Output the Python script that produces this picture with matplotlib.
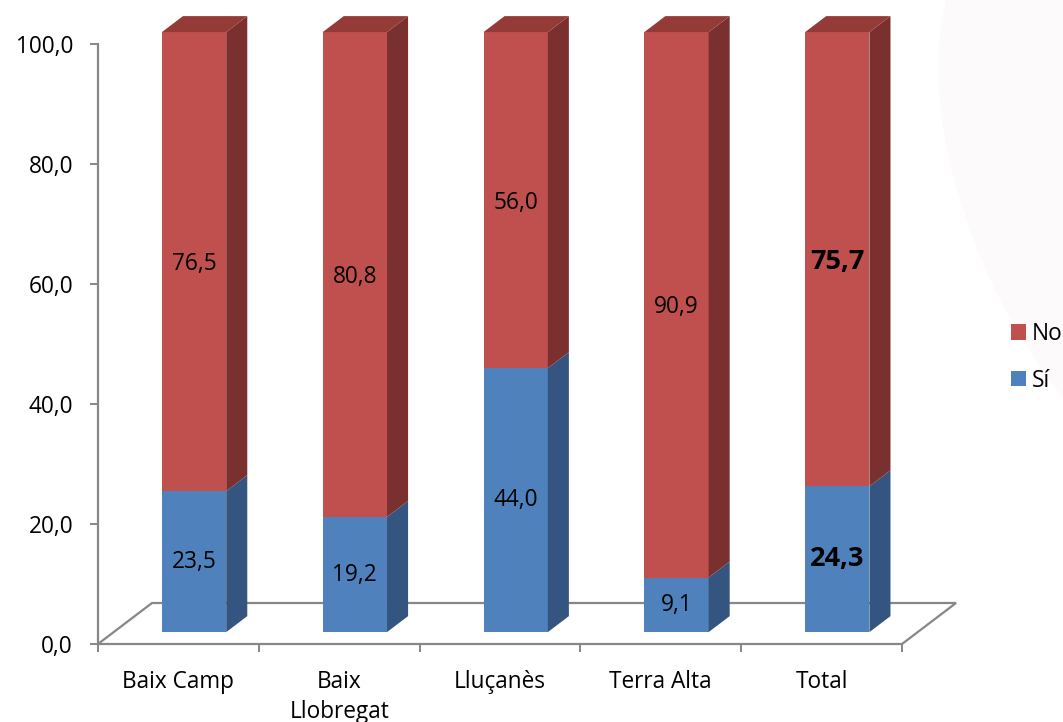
import matplotlib
matplotlib.use('Agg')
import matplotlib.pyplot as plt
from matplotlib.patches import Polygon, Ellipse, Patch
import numpy as np

# ---------------- data ----------------
categories = ['Baix Camp', 'Baix\nLlobregat', 'Lluçanès', 'Terra Alta', 'Total']
si_values = [23.5, 19.2, 44.0, 9.1, 24.3]
no_values = [76.5, 80.8, 56.0, 90.9, 75.7]
series_names = ['No', 'Sí']
y_ticks = [0, 20, 40, 60, 80, 100]
bold_category = 'Total'

# ---------------- style ----------------
plt.rcParams['font.family'] = ['Open Sans', 'DejaVu Sans']
RED_FRONT, RED_SIDE, RED_TOP = '#C0504D', '#7A302E', '#943A37'
BLUE_FRONT, BLUE_SIDE, BLUE_TOP = '#4F81BD', '#34557F', '#3E6496'
AXIS_GRAY = '#878787'
FS = 16.3
FS_BOLD = 19.5

W, H = 1063, 722
fig = plt.figure(figsize=(W / 100, H / 100), dpi=100)

# faint decorative shape on the right
fig.patches.append(Ellipse((1140, H - 210), 330, 640, angle=25,
                           transform=None, facecolor='#FDFAFB',
                           edgecolor='none', zorder=0))

ax = fig.add_axes([98 / W, (H - 644) / H, (902 - 98) / W, 600 / H])
ax.set_facecolor('none')
n = len(categories)
ax.set_xlim(-0.5, n - 0.5)
ax.set_ylim(0, 100)

# depth vector of the floor (pixels -> data units)
px_per_x = (902 - 98) / n
px_per_y = 600 / 100
DX = 54 / px_per_x
DY = 41 / px_per_y
f_front, f_back = 0.29, 0.68
bar_w = 0.4

x = np.arange(n)
xs = x + f_front * DX
oy = f_front * DY
sdx = (f_back - f_front) * DX
sdy = (f_back - f_front) * DY

# floor outline
x0, x1 = -0.5, n - 0.5
ax.plot([x0, x0 + DX, x1 + DX, x1], [0, DY, DY, 0], color=AXIS_GRAY,
        lw=1.6, clip_on=False, zorder=1, solid_joinstyle='miter')

si = np.array(si_values)
no = np.array(no_values)

ax.bar(xs, si, width=bar_w, bottom=oy, color=BLUE_FRONT, clip_on=False,
       zorder=3, linewidth=0)
ax.bar(xs, no, width=bar_w, bottom=oy + si, color=RED_FRONT, clip_on=False,
       zorder=3, linewidth=0)

for i in range(n):
    xr = xs[i] + bar_w / 2
    xl = xs[i] - bar_w / 2
    segs = [(oy, oy + si[i], BLUE_SIDE), (oy + si[i], oy + si[i] + no[i], RED_SIDE)]
    for y0, y1, c in segs:
        ax.add_patch(Polygon([(xr, y0), (xr + sdx, y0 + sdy), (xr + sdx, y1 + sdy), (xr, y1)],
                             closed=True, facecolor=c, edgecolor='none',
                             clip_on=False, zorder=3))
    yt = oy + si[i] + no[i]
    ax.add_patch(Polygon([(xl, yt), (xr, yt), (xr + sdx, yt + sdy), (xl + sdx, yt + sdy)],
                         closed=True, facecolor=RED_TOP, edgecolor='none',
                         clip_on=False, zorder=3))


def fmt(v):
    return f'{v:.1f}'.replace('.', ',')


for i in range(n):
    bold = categories[i] == bold_category
    kw = dict(ha='center', va='center', zorder=5,
              fontsize=FS_BOLD if bold else FS,
              fontweight='bold' if bold else 'normal', color='black')
    ax.text(xs[i], oy + si[i] / 2, fmt(si[i]), **kw)
    ax.text(xs[i], oy + si[i] + no[i] / 2 - 0.4, fmt(no[i]), **kw)

# axes styling
for s in ['top', 'right']:
    ax.spines[s].set_visible(False)
for s in ['left', 'bottom']:
    ax.spines[s].set_color(AXIS_GRAY)
    ax.spines[s].set_linewidth(1.6)
    ax.spines[s].set_zorder(1)

ax.set_yticks(y_ticks)
ax.set_yticklabels([fmt(v) for v in y_ticks])
ax.tick_params(axis='y', direction='out', length=6, width=1.4, color=AXIS_GRAY,
               pad=12, labelsize=FS, labelcolor='black')

ax.set_xticks(np.arange(-0.5, n, 1.0))
ax.set_xticklabels([])
ax.set_xticks(x, minor=True)
ax.set_xticklabels(categories, minor=True)
ax.tick_params(axis='x', which='major', direction='out', length=6, width=1.4,
               color=AXIS_GRAY)
ax.tick_params(axis='x', which='minor', length=0, pad=18.5, labelsize=FS,
               labelcolor='black')
for lab in ax.get_xticklabels(minor=True):
    lab.set_linespacing(1.35)

handles = [Patch(facecolor=RED_FRONT, edgecolor='none'),
           Patch(facecolor=BLUE_FRONT, edgecolor='none')]
fig.legend(handles, series_names, loc='upper left',
           bbox_to_anchor=(1011 / W, 1 - 322 / H), frameon=False,
           fontsize=FS, handlelength=0.65, handleheight=0.65,
           handletextpad=0.25, labelspacing=1.0, borderaxespad=0,
           borderpad=0)

fig.savefig('out.png', dpi=100, facecolor='white')
